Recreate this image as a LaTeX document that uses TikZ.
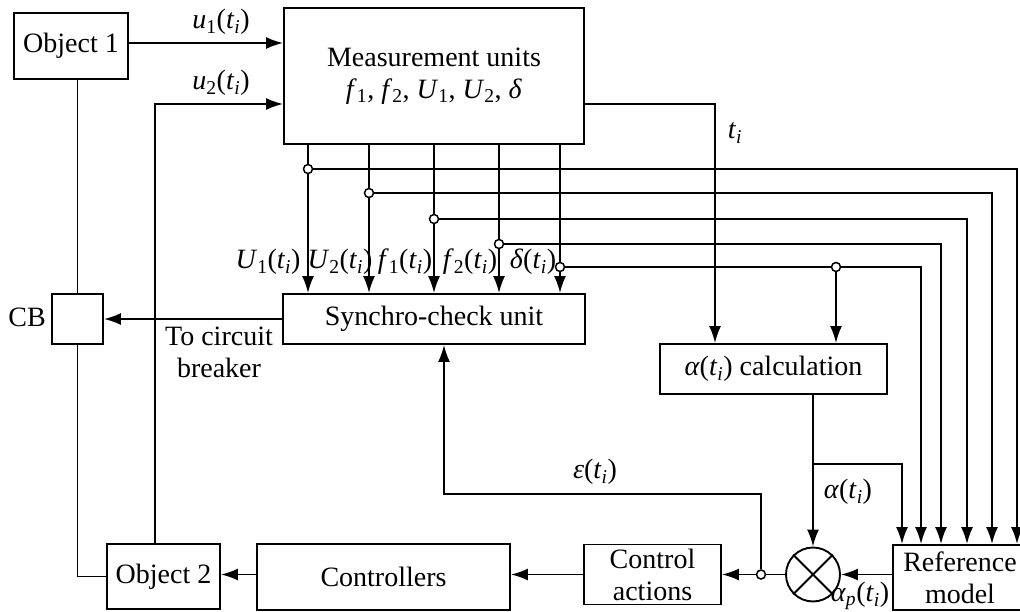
\documentclass[tikz,border=0pt]{standalone}
\usepackage{fontspec}
\setmainfont{Liberation Serif}
\usetikzlibrary{arrows.meta,calc}
\newcommand\argti{(\textit{t}\textsubscript{\textit{i}})}
\begin{document}
\begin{tikzpicture}[x=1pt,y=-1pt,
  every node/.style={font=\fontsize{28}{32}\selectfont},
  line width=1.9pt,
  blk/.style={draw, line width=1.9pt, inner sep=0pt, align=center},
  arr/.style={-{Latex[length=17pt,width=12pt]}},
  jn/.style={circle, draw, fill=white, inner sep=0pt, minimum size=9pt, line width=1.5pt},
  lbl/.style={inner sep=0pt, align=center}]

\useasboundingbox (0,0) rectangle (1020,612);

% blocks
\node[blk, minimum width=114pt, minimum height=66pt] (obj1) at (71,46) {Object 1};
\node[blk, minimum width=300pt, minimum height=136pt] (meas) at (434,76)
  {Measurement units\\ \textit{f}\textsubscript{1}, \textit{f}\textsubscript{2}, \textit{U}\textsubscript{1}, \textit{U}\textsubscript{2}, \textit{δ}};
\node[blk, minimum width=302pt, minimum height=50pt] (sync) at (434,319) {Synchro-check unit};
\node[blk, minimum width=51pt, minimum height=50pt] (cb) at (77.5,319) {};
\node[blk, minimum width=227pt, minimum height=50pt] (calc) at (773.5,369) {\textit{α}\argti{} calculation};
\node[blk, minimum width=113pt, minimum height=65pt] (obj2) at (163.5,576.5) {Object 2};
\node[blk, minimum width=253pt, minimum height=66pt] (ctrl) at (383.5,577) {Controllers};
\node[blk, minimum width=137pt, minimum height=60pt] (act) at (652.5,574.5) {Control\\actions};
\node[blk, minimum width=134pt, minimum height=65pt] (ref) at (960,577.5) {Reference\\model};
\node[circle, draw, line width=1.9pt, minimum size=54pt, inner sep=0pt] (mul) at (813,574.5) {};
\draw (mul.north west) -- (mul.south east) (mul.north east) -- (mul.south west);

% object signals into the measurement units
\coordinate (u1y) at (0,43);
\draw[arr] (obj1.east |- u1y) -- (meas.west |- u1y);
\coordinate (u2c) at (155,104);
\draw[arr] (obj2.north -| u2c) -- (u2c) -- (meas.west |- u2c);

% circuit breaker between the two objects
\draw (cb.north) -- (cb.north |- obj1.south);
\draw (cb.south) |- (obj2.west);
\draw[arr] (sync.west) -- (cb.east);

% measured quantities to the synchro-check unit and the reference model
\foreach \x/\y/\r in {308/169/1017, 369/193/992, 434/219/967, 499/244/941, 560/267/921} {
  \draw[arr] (meas.south -| \x,0) -- (sync.north -| \x,0);
  \draw[arr] (\x,\y) -| (ref.north -| \r,0);
  \node[jn] (j\x) at (\x,\y) {};
}
\node[jn] (jd) at (836,267) {};
\draw[arr] (jd.south) -- (calc.north -| jd);

% time stamps
\draw[arr] (meas.east |- 0,104) -| (calc.north -| 715,0);

% alpha path
\coordinate (ab) at (813,464);
\draw[arr] (calc.south -| mul.north) -- (mul.north);
\draw[arr] (ab) -| (ref.north -| 902,0);
\draw[arr] (ref.west |- mul.east) -- (mul.east);

% control chain
\draw[arr] (mul.west) -- (act.east |- mul.west);
\node[jn] (je) at (761,574.5) {};
\coordinate (ec) at (444,494);
\draw[arr] (je.north) |- (ec) -- (sync.south -| ec);
\draw[arr] (act.west) -- (ctrl.east |- act.west);
\draw[arr] (ctrl.west |- act.west) -- (obj2.east |- act.west);

% labels
\node[lbl] (lu1) at (221,22) {\textit{u}\textsubscript{1}\argti};
\node[lbl] (lu2) at (221,83) {\textit{u}\textsubscript{2}\argti};
\node[lbl] (lU1) at (268,262) {\textit{U}\textsubscript{1}\argti};
\node[lbl] (lU2) at (340,262) {\textit{U}\textsubscript{2}\argti};
\node[lbl] (lf1) at (405,262) {\textit{f}\textsubscript{1}\argti};
\node[lbl] (lf2) at (470,262) {\textit{f}\textsubscript{2}\argti};
\node[lbl] (ld) at (533,262) {\textit{δ}\argti};
\node[lbl] (lti) at (735,133) {\textit{t}\textsubscript{\textit{i}}};
\node[lbl] (lcb) at (27,317) {CB};
\node[lbl] (lbr) at (219,352) {To circuit\\breaker};
\node[lbl] (leps) at (595,472) {\textit{ε}\argti};
\node[lbl] (lal) at (848,492) {\textit{α}\argti};
\node[lbl] (lap) at (860,596) {\textit{α}\textsubscript{\textit{p}}\argti};
\end{tikzpicture}
\end{document}
